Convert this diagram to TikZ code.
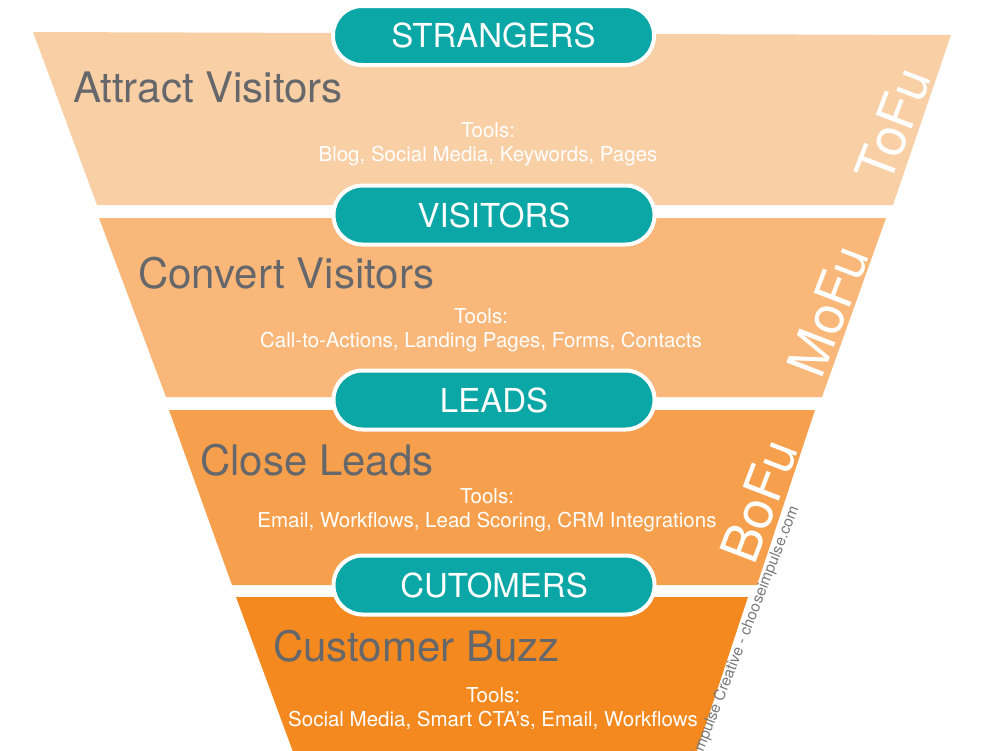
\documentclass[tikz,border=0pt]{standalone}
\usepackage{fontspec}
\setmainfont{TeX Gyre Heros}
\usetikzlibrary{calc}
\definecolor{bandA}{HTML}{F9CFA5}
\definecolor{bandB}{HTML}{F9B87A}
\definecolor{bandC}{HTML}{F6A04D}
\definecolor{bandD}{HTML}{F48920}
\definecolor{tealpill}{HTML}{0BA6A6}
\definecolor{headgray}{HTML}{66676A}
\definecolor{markgray}{HTML}{7A7A7A}
\tikzset{
  pill/.style={draw=white, line width=4pt, fill=tealpill, rounded corners=29pt,
    minimum width=321pt, minimum height=59pt, inner sep=0pt,
    text=white, font=\fontsize{33}{33}\selectfont},
  heading/.style={anchor=base west, inner sep=0pt, text=headgray,
    font=\fontsize{42}{42}\selectfont},
  tools/.style={anchor=base, inner sep=0pt, align=center, text=white,
    font=\fontsize{20.5}{24}\selectfont},
  stage/.style={inner sep=0pt, rotate=69, text=white,
    font=\fontsize{53}{53}\selectfont},
  wmark/.style={inner sep=0pt, rotate=68.6, anchor=east, text=markgray,
    font=\fontsize{15.5}{15.5}\selectfont}
}
\begin{document}
\begin{tikzpicture}[x=1pt,y=-1pt]
\useasboundingbox (0,0) rectangle (1000,750);
\clip (0,0) rectangle (1000,750);
% funnel bands
\fill[bandA] (33,32) -- (951,35) -- (893,205) -- (97,205) -- cycle;
\fill[bandB] (99,218) -- (886,218) -- (822,397) -- (166,397) -- cycle;
\fill[bandC] (169,410) -- (815,410) -- (757,585) -- (232,585) -- cycle;
\fill[bandD] (236,597) -- (748,597) -- (694,760) -- (296,760) -- cycle;
% headings
\node[heading] (h1) at (73,102) {Attract Visitors};
\node[heading] (h2) at (138,288) {Convert Visitors};
\node[heading] (h3) at (200,475) {Close Leads};
\node[heading] (h4) at (273,661) {Customer Buzz};
% tools (base = baseline of the last line)
\node[tools] (t1) at (488,161) {Tools:\\Blog, Social Media, Keywords, Pages};
\node[tools] (t2) at (481,347) {Tools:\\Call-to-Actions, Landing Pages, Forms, Contacts};
\node[tools] (t3) at (487,527) {Tools:\\Email, Workflows, Lead Scoring, CRM Integrations};
\node[tools] (t4) at (493,726) {Tools:\\Social Media, Smart CTA’s, Email, Workflows};
% stage labels
\node[stage] (s1) at (893,125) {ToFu};
\node[stage] (s2) at (828,311) {MoFu};
\node[stage] (s3) at (759,501) {BoFu};
% watermark
\node[wmark] (wm) at (795,507) {Impulse Creative - chooseimpulse.com};
% pills
\node[pill] (p1) at (493.5,35.5) {STRANGERS};
\node[pill] (p2) at (494,215) {VISITORS};
\node[pill] (p3) at (494,400) {LEADS};
\node[pill] (p4) at (494,585) {CUTOMERS};
\end{tikzpicture}
\end{document}
